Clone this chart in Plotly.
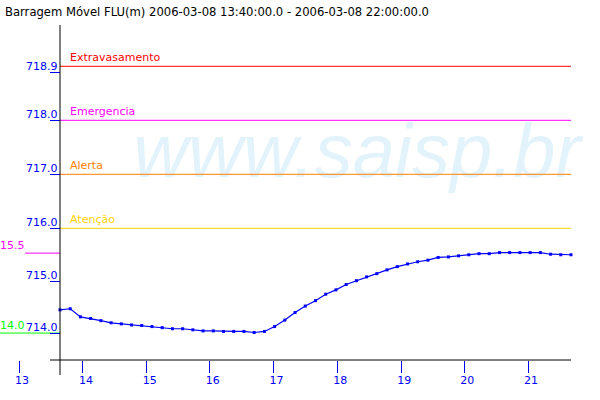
import plotly.graph_objects as go

# ---------------- data ----------------
times = ["13:40", "13:50", "14:00", "14:10", "14:20", "14:30", "14:40", "14:50",
         "15:00", "15:10", "15:20", "15:30", "15:40", "15:50", "16:00", "16:10",
         "16:20", "16:30", "16:40", "16:50", "17:00", "17:10", "17:20", "17:30",
         "17:40", "17:50", "18:00", "18:10", "18:20", "18:30", "18:40", "18:50",
         "19:00", "19:10", "19:20", "19:30", "19:40", "19:50", "20:00", "20:10",
         "20:20", "20:30", "20:40", "20:50", "21:00", "21:10", "21:20", "21:30",
         "21:40", "21:50", "22:00"]
levels = [714.49, 714.51, 714.36, 714.33, 714.29, 714.25, 714.23, 714.21,
          714.20, 714.18, 714.16, 714.14, 714.14, 714.12, 714.10, 714.10,
          714.09, 714.09, 714.09, 714.07, 714.09, 714.18, 714.30, 714.44,
          714.56, 714.66, 714.78, 714.86, 714.96, 715.03, 715.10, 715.16,
          715.23, 715.29, 715.34, 715.38, 715.41, 715.46, 715.47, 715.49,
          715.51, 715.53, 715.53, 715.55, 715.55, 715.55, 715.55, 715.55,
          715.52, 715.51, 715.51]

threshold_names = ["Extravasamento", "Emergencia", "Alerta", "Atenção"]
threshold_values = [719.0, 718.0, 717.0, 716.0]

ytick_values = [714.06, 715.01, 716.0, 717.0, 718.0, 718.89]
ytick_labels = ["714.0", "715.0", "716.0", "717.0", "718.0", "718.9"]

xtick_values = [13.0, 14.04, 15.08, 16.11, 17.15, 18.19, 19.23, 20.26, 21.30]
xtick_labels = ["13", "14", "15", "16", "17", "18", "19", "20", "21"]

ref_values = [715.54, 714.06]
ref_labels = ["15.5", "14.0"]

title_text = "Barragem Móvel FLU(m) 2006-03-08 13:40:00.0 - 2006-03-08 22:00:00.0"

# ---------------- styles ----------------
threshold_colors = ["#ff0000", "#ff00ff", "#ff8000", "#ffd200"]
ref_colors = ["#ff00ff", "#00ff00"]
BLUE = "#0000ff"
FONT = "DejaVu Sans"

W, H = 600, 400
AX_X_PX = 60          # pixel column of the y axis
AX_Y_PX = 360         # pixel row of the x axis
PX_PER_H = 61.32
PX_PER_M = 54.0
Y718_PX = 120.3


def to_hours(t):
    h, m = t.split(":")
    return int(h) + int(m) / 60.0


x_hours = [to_hours(t) for t in times]
h0 = x_hours[0]
xr = [h0 - AX_X_PX / PX_PER_H, h0 + (W - AX_X_PX) / PX_PER_H]
yr = [718 - (H - Y718_PX) / PX_PER_M, 718 + Y718_PX / PX_PER_M]


def hx(px):
    return xr[0] + px / W * (xr[1] - xr[0])


fig = go.Figure()

# watermark (behind everything)
fig.add_trace(go.Scatter(
    x=[hx(357)], y=[718 - (158 - Y718_PX) / PX_PER_M], mode="text",
    text=["www.saisp.br"], textposition="middle center",
    textfont=dict(family="Liberation Sans", size=76, color="#e3f3fb", style="italic"),
    hoverinfo="skip", showlegend=False))

# threshold lines
for name, val, col in zip(threshold_names, threshold_values, threshold_colors):
    fig.add_trace(go.Scatter(x=[x_hours[0], x_hours[-1]], y=[val, val], mode="lines",
                             line=dict(color=col, width=1), hoverinfo="skip",
                             showlegend=False))
    fig.add_annotation(x=hx(AX_X_PX + 10), y=val, text=name, showarrow=False,
                       xanchor="left", yanchor="bottom", yshift=0, xshift=-2,
                       font=dict(family=FONT, size=11, color=col))

# reference marks at the left
ref_start_px = [25, 0]
for val, lab, col, sp in zip(ref_values, ref_labels, ref_colors, ref_start_px):
    fig.add_trace(go.Scatter(x=[hx(sp), x_hours[0]], y=[val, val], mode="lines",
                             line=dict(color=col, width=1), hoverinfo="skip",
                             showlegend=False))
    fig.add_annotation(x=hx(0), y=val, text=lab, showarrow=False,
                       xanchor="left", yanchor="bottom", yshift=-1, xshift=-2,
                       font=dict(family=FONT, size=11, color=col))

# y tick labels (sitting on top of their ticks, like the original)
for val, lab in zip(ytick_values, ytick_labels):
    fig.add_annotation(x=h0, y=val, text=lab, showarrow=False,
                       xanchor="right", yanchor="bottom", yshift=-2.5, xshift=0,
                       font=dict(family=FONT, size=11, color=BLUE))

# data series
fig.add_trace(go.Scatter(x=x_hours, y=levels, mode="lines+markers",
                         line=dict(color=BLUE, width=1.2),
                         marker=dict(symbol="square", size=3, color=BLUE, line=dict(width=0)),
                         hoverinfo="skip", showlegend=False))

# axis lines
fig.add_shape(type="line", xref="paper", yref="paper",
              x0=AX_X_PX / W, x1=AX_X_PX / W, y0=1 - 25 / H, y1=1 - 375 / H,
              line=dict(color="black", width=1))
fig.add_shape(type="line", xref="paper", yref="paper",
              x0=50 / W, x1=571 / W, y0=1 - AX_Y_PX / H, y1=1 - AX_Y_PX / H,
              line=dict(color="black", width=1))

# title
fig.add_annotation(xref="paper", yref="paper", x=3 / W, y=1 - 12 / H,
                   text=title_text, showarrow=False, xanchor="left", yanchor="middle",
                   font=dict(family=FONT, size=11.6, color="black"))

fig.update_layout(
    width=W, height=H, margin=dict(l=0, r=0, t=0, b=0),
    paper_bgcolor="white", plot_bgcolor="white", showlegend=False,
    xaxis=dict(range=xr, anchor="free", position=1 - AX_Y_PX / H,
               tickmode="array", tickvals=xtick_values, ticktext=xtick_labels,
               ticks="outside", ticklen=12, tickcolor=BLUE, tickwidth=1,
               showgrid=False, zeroline=False, showline=False,
               tickfont=dict(family=FONT, size=11, color=BLUE),
               ticklabelshift=3, ticklabelstandoff=-2, fixedrange=True),
    yaxis=dict(range=yr, anchor="free", position=AX_X_PX / W,
               tickmode="array", tickvals=ytick_values,
               ticks="outside", ticklen=10, tickcolor=BLUE, tickwidth=1,
               showticklabels=False,
               showgrid=False, zeroline=False, showline=False, fixedrange=True),
)

fig.write_html("out.html", config={"displayModeBar": False},
               post_script="document.body.style.margin='0px';document.body.style.overflow='hidden';")
